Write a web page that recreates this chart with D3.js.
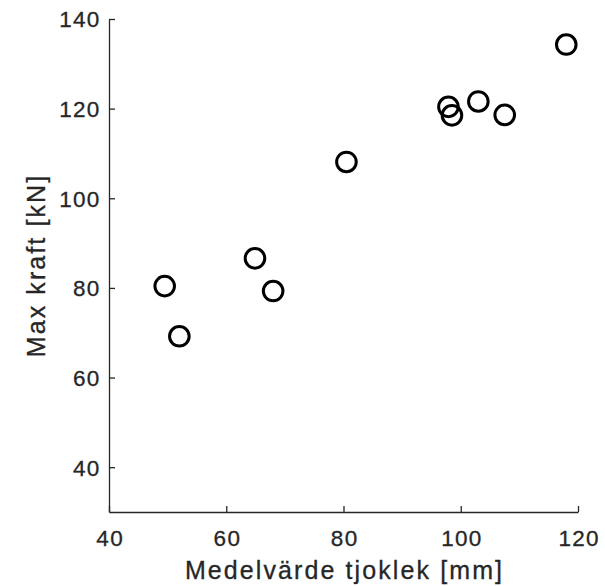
<!DOCTYPE html>
<meta charset="utf-8">
<style>
body { margin: 0; background: #fff; }
text { font-family: "Liberation Sans", Arial, sans-serif; fill: #262626; stroke: #262626; stroke-width: 0.3px; }
.axis path, .axis line { stroke: #262626; stroke-width: 1.3px; }
.axis text { font-size: 22.5px; letter-spacing: 1.3px; }
.label { font-size: 25px; letter-spacing: 2.1px; }
circle.pt { fill: none; stroke: #000; stroke-width: 3px; }
</style>
<svg width="605" height="586"></svg>
<script src="https://d3js.org/d3.v7.min.js"></script>
<script>

// Medelvärde tjoklek [mm]
var thickness = [49.5, 52.0, 64.9, 68.0, 80.5, 97.9, 98.5, 103.0, 107.5, 118.0];
// Max kraft [kN]
var force = [80.4, 69.2, 86.6, 79.3, 108.1, 120.4, 118.5, 121.6, 118.6, 134.3];

var xTicks = [40, 60, 80, 100, 120];
var yTicks = [40, 60, 80, 100, 120, 140];

var svg = d3.select("svg"),
    margin = {top: 19, right: 27, bottom: 74, left: 109},
    width = +svg.attr("width") - margin.left - margin.right,
    height = +svg.attr("height") - margin.top - margin.bottom;

var g = svg.append("g").attr("transform", "translate(" + margin.left + "," + margin.top + ")");

var x = d3.scaleLinear().domain([40, 120]).range([0, width]);
var y = d3.scaleLinear().domain([30, 140]).range([height, 0]);

// ticks point inward, like matlab
g.append("g")
    .attr("class", "axis")
    .attr("transform", "translate(0," + height + ")")
    .call(d3.axisBottom(x).tickValues(xTicks).tickSizeInner(-6).tickSizeOuter(0))
    .call(function(a) {
      a.selectAll("text").attr("y", 34).attr("dy", 0).attr("dx", "0.65px");
    });

g.append("g")
    .attr("class", "axis")
    .call(d3.axisLeft(y).tickValues(yTicks).tickSizeInner(-6).tickSizeOuter(0))
    .call(function(a) {
      a.selectAll("text").attr("x", -8.4).attr("dy", "0.35em");
    });

g.append("g")
  .selectAll("circle")
  .data(thickness)
  .enter().append("circle")
    .attr("class", "pt")
    .attr("cx", function(d) { return x(d); })
    .attr("cy", function(d, i) { return y(force[i]); })
    .attr("r", 9.8);

g.append("text")
    .attr("class", "label")
    .attr("x", width / 2 + 1)
    .attr("y", height + 67)
    .attr("text-anchor", "middle")
    .text("Medelvärde tjoklek [mm]");

g.append("text")
    .attr("class", "label")
    .attr("transform", "translate(-64," + (height / 2) + ") rotate(-90)")
    .attr("text-anchor", "middle")
    .text("Max kraft [kN]");

</script>
